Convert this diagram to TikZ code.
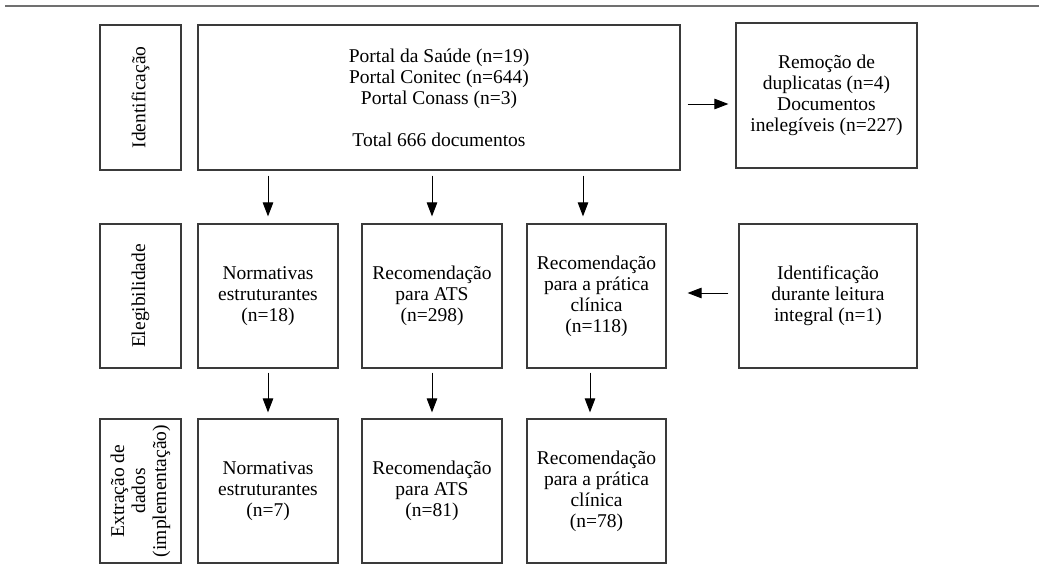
\documentclass[tikz,border=0pt]{standalone}
\usepackage{fontspec}
\setmainfont{Liberation Serif}
\usetikzlibrary{arrows.meta}
\definecolor{boxgray}{HTML}{3A3A3A}
\definecolor{rulegray}{HTML}{707070}
\begin{document}
\begin{tikzpicture}[x=1pt,y=-1pt,
  box/.style={draw=boxgray, line width=1.2pt, align=center, inner sep=0pt,
    font=\fontsize{19.5}{21}\selectfont},
  lab/.style={box, rotate=90},
  arr/.style={-{Triangle[length=14pt,width=10.5pt]}, line width=0.9pt, black}]
\useasboundingbox (0,0) rectangle (1039,585);
\fill[white] (0,0) rectangle (1039,585);
\coordinate (ruleL) at (5,6);
\coordinate (ruleR) at (1039,6);
\draw[line width=2pt, rulegray] (ruleL) -- (ruleR);
% row 1
\node[lab, minimum width=145pt, minimum height=81pt] (lab1) at (140.5,97.5) {Identificação};
\node[box, minimum width=482pt, minimum height=145pt] (main) at (439,97.5)
  {Portal da Saúde (n=19)\\Portal Conitec (n=644)\\Portal Conass (n=3)\\[21pt]Total 666 documentos};
\node[box, minimum width=181pt, minimum height=145pt] (rem) at (826.5,95.5)
  {Remoção de\\duplicatas (n=4)\\Documentos\\inelegíveis (n=227)};
% row 2
\node[lab, minimum width=144pt, minimum height=81pt] (lab2) at (140.5,296) {Elegibilidade};
\node[box, minimum width=140pt, minimum height=144pt] (n1) at (268,296) {Normativas\\estruturantes\\(n=18)};
\node[box, minimum width=140pt, minimum height=144pt] (a1) at (432,296) {Recomendação\\para ATS\\(n=298)};
\node[box, minimum width=139pt, minimum height=144pt] (p1) at (596.5,296) {Recomendação\\para a prática\\clínica\\(n=118)};
\node[box, minimum width=178pt, minimum height=144pt] (id2) at (828,296) {Identificação\\durante leitura\\integral (n=1)};
% row 3
\node[lab, minimum width=144pt, minimum height=81pt] (lab3) at (140.5,491) {Extração de\\dados\\(implementação)};
\node[box, minimum width=140pt, minimum height=144pt] (n2) at (268,491) {Normativas\\estruturantes\\(n=7)};
\node[box, minimum width=140pt, minimum height=144pt] (a2) at (432,491) {Recomendação\\para ATS\\(n=81)};
\node[box, minimum width=139pt, minimum height=144pt] (p2) at (596.5,491) {Recomendação\\para a prática\\clínica\\(n=78)};
% arrows
\draw[arr] ([xshift=7pt,yshift=-6.5pt]main.east) -- ([xshift=-7pt,yshift=-8.5pt]rem.west);
\draw[arr] ([yshift=-5pt]main.south -| n1.north) -- ([yshift=7pt]n1.north);
\draw[arr] ([yshift=-5pt]main.south -| a1.north) -- ([yshift=7pt]a1.north);
\draw[arr] ([xshift=-13.5pt,yshift=-5pt]main.south -| p1.north) -- ([xshift=-13.5pt,yshift=7pt]p1.north);
\draw[arr] ([xshift=-10pt,yshift=3pt]id2.west) -- ([xshift=21pt,yshift=3pt]p1.east);
\draw[arr] ([yshift=-4pt]n1.south) -- ([yshift=6pt]n2.north);
\draw[arr] ([yshift=-4pt]a1.south) -- ([yshift=6pt]a2.north);
\draw[arr] ([xshift=-6.5pt,yshift=-4pt]p1.south) -- ([xshift=-6.5pt,yshift=6pt]p2.north);
\end{tikzpicture}
\end{document}
